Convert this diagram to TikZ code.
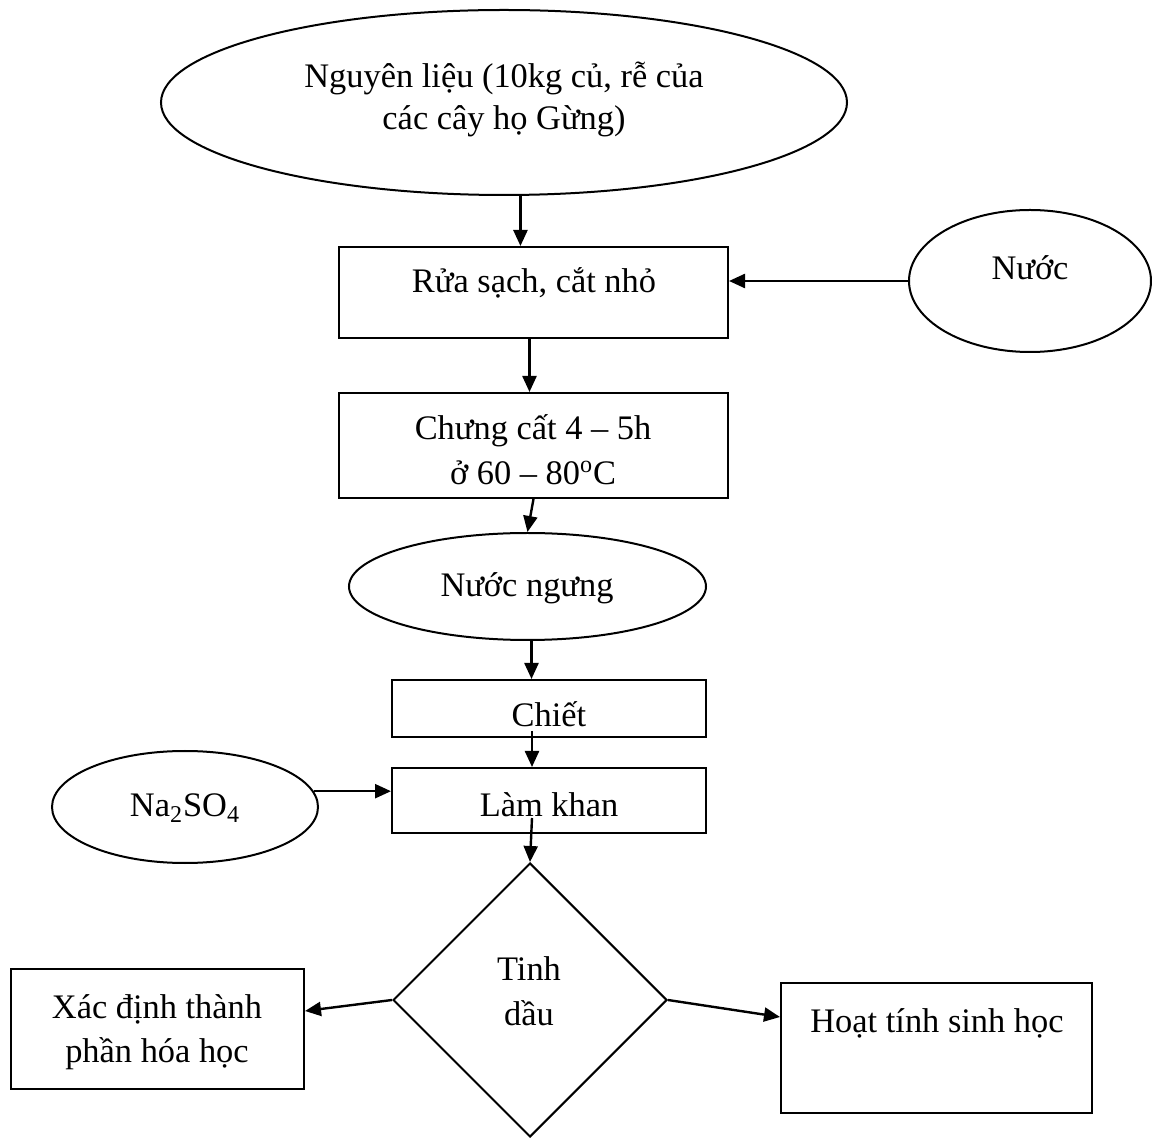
\documentclass[tikz,border=0pt]{standalone}
\usepackage{fontspec}
\setmainfont{Liberation Serif}
\usetikzlibrary{shapes.geometric,arrows.meta,calc}
\begin{document}
\begin{tikzpicture}[x=0.5pt,y=-0.5pt,
  shp/.style={draw,line width=1pt,inner sep=0pt},
  ell/.style={shp,ellipse},
  box/.style={shp,rectangle},
  txt/.style={inner sep=0pt,anchor=base,align=center,font=\fontsize{17.2pt}{22.5pt}\selectfont},
  arr/.style={line width=1.2pt,-{Triangle[length=8pt,width=7pt]}}]
\useasboundingbox (0,0) rectangle (1152,1138);
% shapes
\node[ell,minimum width=343pt,minimum height=92.5pt] (top) at (504,102.5) {};
\node[box,minimum width=194.5pt,minimum height=45.5pt] (rua) at (533.5,292.5) {};
\node[ell,minimum width=121pt,minimum height=71pt] (nuoc) at (1030,281) {};
\node[box,minimum width=194.5pt,minimum height=52.5pt] (chung) at (533.5,445.5) {};
\node[ell,minimum width=178.5pt,minimum height=53.5pt] (nn) at (527.5,586.5) {};
\node[box,minimum width=157pt,minimum height=28.5pt] (chiet) at (549,708.5) {};
\node[box,minimum width=157pt,minimum height=32.5pt] (lk) at (549,800.5) {};
\node[ell,minimum width=133pt,minimum height=56pt] (na) at (185,807) {};
\node[shp,diamond,minimum width=137pt,minimum height=137pt] (td) at (530,1000) {};
\node[box,minimum width=146.5pt,minimum height=60pt] (xd) at (157.5,1029) {};
\node[box,minimum width=155.5pt,minimum height=65pt] (ht) at (936.5,1048) {};
% texts (multi-line nodes: base = last line)
\node[txt,font=\fontsize{17.2pt}{21pt}\selectfont] (toptxt) at (504,130) {Nguyên liệu (10kg củ, rễ của\\các cây họ Gừng)};
\node[txt] (ruatxt) at (534,293) {Rửa sạch, cắt nhỏ};
\node[txt] (nuoctxt) at (1030,280) {Nước};
\node[txt] (chungtxt) at (533,485) {Chưng cất 4 – 5h\\ở 60 – 80\textsuperscript{o}C};
\node[txt] (nntxt) at (527,597) {Nước ngưng};
\node[txt] (chiettxt) at (549,727) {Chiết};
\node[txt] (lktxt) at (549,817) {Làm khan};
\node[txt] (natxt) at (185,817) {Na\textsubscript{2}SO\textsubscript{4}};
\node[txt] (tdtxt) at (529,1025) {Tinh\\dầu};
\node[txt,font=\fontsize{17.2pt}{22pt}\selectfont] (xdtxt) at (157,1062) {Xác định thành\\phần hóa học};
\node[txt] (httxt) at (937,1032) {Hoạt tính sinh học};
% connectors
\draw[arr] (top.-80) -- (top.-80 |- rua.north);
\draw[arr] (nuoc.west) -- (nuoc.west -| rua.east);
\draw[arr] ($(rua.south)+(-4,0)$) -- ($(chung.north)+(-4,0)$);
\draw[arr] (chung.south) -- (nn.north);
\draw[arr] ($(nn.south)+(4,0)$) -- ($(nn.south |- chiet.north)+(4,0)$);
\draw[arr] ($(chiet.south)+(-17,-7)$) -- ($(chiet.south |- lk.north)+(-17,0)$);
\draw[arr] (na.7) -- (na.7 -| lk.west);
\draw[arr] ($(lk.south -| td.north)+(2,-16)$) -- (td.north);
\draw[arr] (td.west) -- ($(xd.east)+(0,-18)$);
\draw[arr] (td.east) -- ($(ht.west)+(0,-31)$);
\end{tikzpicture}
\end{document}
